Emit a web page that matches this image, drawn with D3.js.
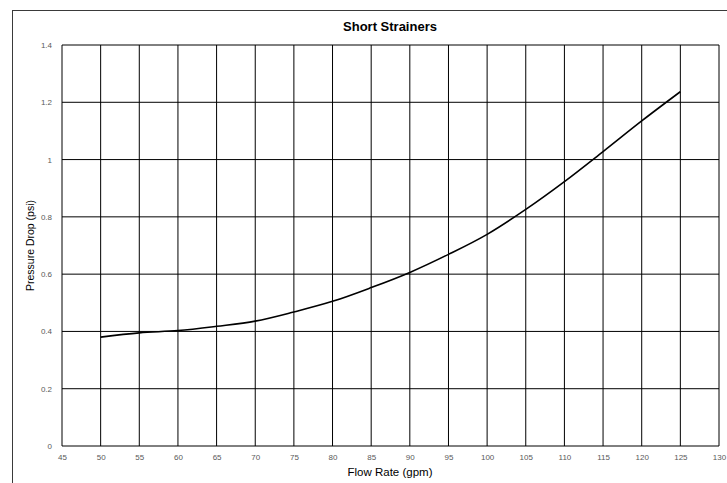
<!DOCTYPE html>
<html>
<head>
<meta charset="utf-8">
<script src="https://cdn.jsdelivr.net/npm/d3@7"></script>
<style>
  html, body { margin: 0; padding: 0; background: #fff; }
  svg { display: block; }
  text { font-family: "Liberation Sans", Arial, sans-serif; }
</style>
</head>
<body>
<svg id="chart" width="727" height="483"></svg>
<script>
// Flow rate (gpm) vs pressure drop (psi) for short strainers
const flowRate = [50, 55, 60, 65, 70, 75, 80, 85, 90, 95, 100, 105, 110, 115, 120, 125];
const pressureDrop = [0.380, 0.395, 0.403, 0.418, 0.436, 0.468, 0.505, 0.553, 0.606, 0.669, 0.739, 0.826, 0.923, 1.028, 1.135, 1.237];
const xTicks = [45, 50, 55, 60, 65, 70, 75, 80, 85, 90, 95, 100, 105, 110, 115, 120, 125, 130];
const yTicks = [0, 0.2, 0.4, 0.6, 0.8, 1, 1.2, 1.4];

const svg = d3.select("#chart");

const x = d3.scaleLinear().domain([45, 130]).range([62, 719]);
const y = d3.scaleLinear().domain([0, 1.4]).range([446, 45]);

// Outer chart frame (runs past the page edge on the right and bottom)
svg.append("rect")
  .attr("x", 12.5).attr("y", 10.5)
  .attr("width", 800).attr("height", 600)
  .attr("fill", "none").attr("stroke", "#3a3a3a").attr("stroke-width", 1);

// Title
svg.append("text")
  .attr("x", 390).attr("y", 31)
  .attr("text-anchor", "middle")
  .attr("font-size", 13).attr("font-weight", "bold")
  .attr("fill", "#000")
  .text("Short Strainers");

// Grid
const grid = svg.append("g");
grid.selectAll("line.v").data(xTicks).enter().append("line")
  .attr("class", "v")
  .attr("x1", d => x(d)).attr("x2", d => x(d))
  .attr("y1", y(0)).attr("y2", y(1.4))
  .attr("stroke", "#000").attr("stroke-width", 1);
grid.selectAll("line.h").data(yTicks).enter().append("line")
  .attr("class", "h")
  .attr("x1", x(45)).attr("x2", x(130))
  .attr("y1", d => y(d)).attr("y2", d => y(d))
  .attr("stroke", "#000").attr("stroke-width", 1);

// Axes (labels only; grid lines supply the rules)
const xAxis = svg.append("g")
  .attr("transform", `translate(0,${y(0)})`)
  .call(d3.axisBottom(x).tickValues(xTicks).tickSize(0).tickPadding(8).tickFormat(d3.format("d")));
xAxis.select(".domain").remove();
xAxis.selectAll("text")
  .attr("font-size", 8).attr("fill", "#595959")
  .attr("font-family", "'DejaVu Sans', Verdana, sans-serif");

const yAxis = svg.append("g")
  .attr("transform", `translate(${x(45)},0)`)
  .call(d3.axisLeft(y).tickValues(yTicks).tickSize(0).tickPadding(10).tickFormat(d => String(+d.toFixed(1))));
yAxis.select(".domain").remove();
yAxis.selectAll("text")
  .attr("font-size", 8).attr("fill", "#595959")
  .attr("font-family", "'DejaVu Sans', Verdana, sans-serif");

// Axis titles
svg.append("text")
  .attr("x", 390).attr("y", 476)
  .attr("text-anchor", "middle")
  .attr("font-size", 11.5).attr("fill", "#000")
  .text("Flow Rate (gpm)");

svg.append("text")
  .attr("transform", `translate(34,${(y(0) + y(1.4)) / 2}) rotate(-90)`)
  .attr("text-anchor", "middle")
  .attr("font-size", 10.5).attr("fill", "#000")
  .text("Pressure Drop (psi)");

// Curve
const pts = flowRate.map((f, i) => [f, pressureDrop[i]]);
const line = d3.line()
  .x(d => x(d[0]))
  .y(d => y(d[1]))
  .curve(d3.curveMonotoneX);
svg.append("path")
  .datum(pts)
  .attr("d", line)
  .attr("fill", "none")
  .attr("stroke", "#000")
  .attr("stroke-width", 1.6);
</script>
</body>
</html>
